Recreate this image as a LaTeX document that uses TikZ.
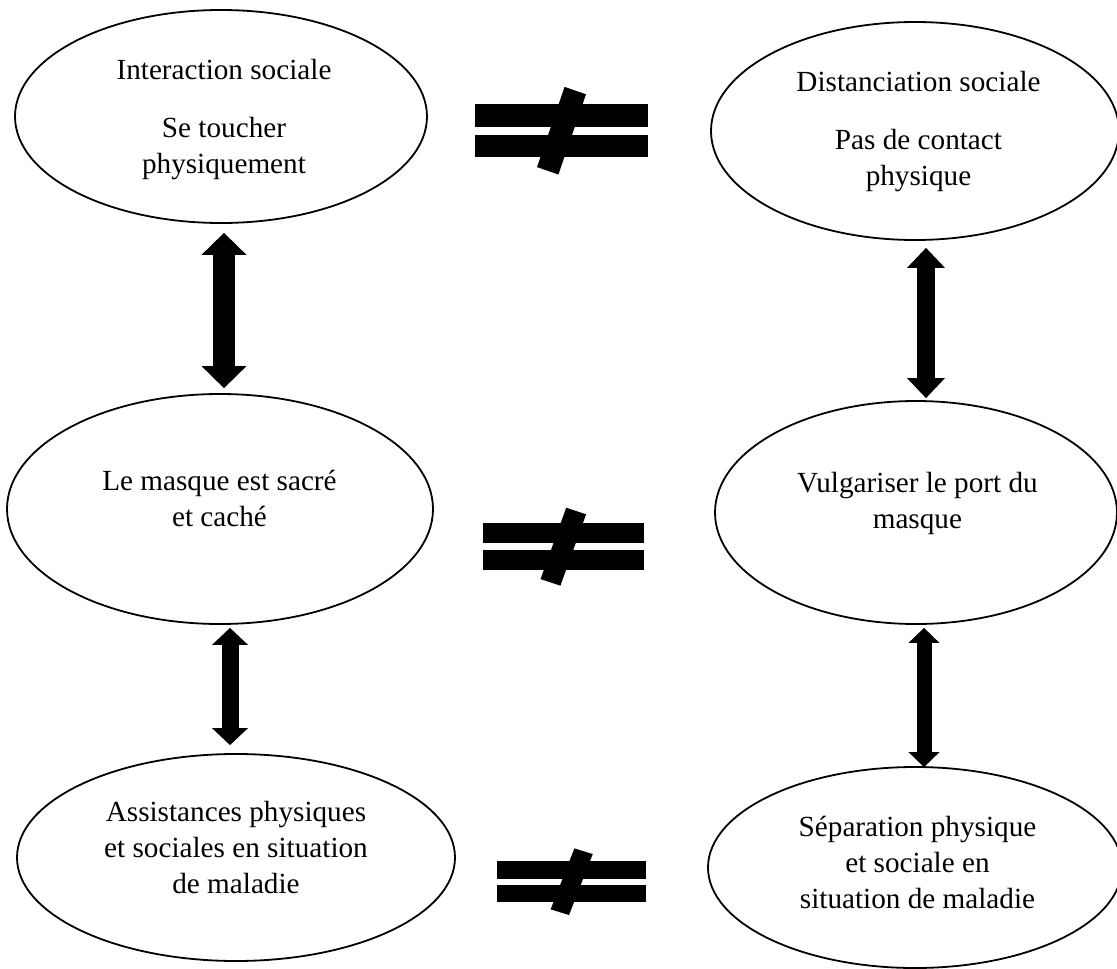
\documentclass[tikz,border=0pt]{standalone}
\usepackage{fontspec}
\setmainfont{Liberation Serif}
\usetikzlibrary{shapes.geometric,arrows.meta}

\tikzset{
  bubble/.style={draw, line width=1.8pt, ellipse, inner sep=0pt},
  txt/.style={align=center, inner sep=0pt, font=\fontsize{29.2}{36}\selectfont},
  dblarrow/.style n args={3}{line width=#1pt, >={Triangle[width=#2pt,length=#3pt,line width=0pt]}, <->}
}

% not-equal sign: centre x, centre y, xscale, yscale
\newcommand{\neqsign}[4]{%
  \begin{scope}[shift={(#1,#2)},xscale=#3,yscale=#4]
    \fill (-86.5,-26.6) rectangle (86.5,-4.2);
    \fill (-86.5,4.2) rectangle (86.5,26.6);
    \fill (3.1,-43.8) -- (24.5,-36.4) -- (-3.1,43.8) -- (-24.5,36.4) -- cycle;
  \end{scope}}

\begin{document}
\begin{tikzpicture}[x=1pt,y=-1pt]
    \useasboundingbox (0,0) rectangle (1117,969);
    % Draw the ellipses
    \node[bubble, minimum width=412pt, minimum height=213pt] (inter) at (221,116.5) {};
    \node[bubble, minimum width=408pt, minimum height=218pt] (dist) at (915,131) {};
    \node[bubble, minimum width=426pt, minimum height=230pt] (masque) at (220,509) {};
    \node[bubble, minimum width=402pt, minimum height=223pt] (vulg) at (916,512.5) {};
    \node[bubble, minimum width=438pt, minimum height=207pt] (assist) at (236,857.5) {};
    \node[bubble, minimum width=414pt, minimum height=201pt] (separ) at (915,867.5) {};
    % Add the texts
    \node[txt] (inter-t) at (224,119.7) {Interaction sociale\\[22pt]Se toucher\\physiquement};
    \node[txt] (dist-t) at (918.5,131.2) {Distanciation sociale\\[22pt]Pas de contact\\physique};
    \node[txt] (masque-t) at (219.5,498.5) {Le masque est sacré\\et caché};
    \node[txt] (vulg-t) at (917.4,503.7) {Vulgariser le port du\\masque};
    \node[txt] (assist-t) at (236,847.5) {Assistances physiques\\et sociales en situation\\de maladie};
    \node[txt] (separ-t) at (917.5,862) {Séparation physique\\et sociale en\\situation de maladie};
    % Add arrows
    \draw[dblarrow={22}{45}{22}] ([xshift=3pt,yshift=-9pt]inter.south) -- ([xshift=4pt,yshift=5pt]masque.north);
    \draw[dblarrow={18}{38}{20}] ([xshift=11pt,yshift=-7pt]dist.south) -- ([xshift=10pt,yshift=2pt]vulg.north);
    \draw[dblarrow={17}{36}{17}] ([xshift=10pt,yshift=-3pt]masque.south) -- ([xshift=-6pt,yshift=8pt]assist.north);
    \draw[dblarrow={15}{31}{15}] ([xshift=8pt,yshift=-3pt]vulg.south) -- ([xshift=9pt,yshift=-1pt]separ.north);
    % Add not-equal signs
    \neqsign{561.5}{130.7}{1}{1}
    \neqsign{563.3}{546.7}{0.93}{0.89}
    \neqsign{571.7}{881.7}{0.86}{0.76}
\end{tikzpicture}
\end{document}
